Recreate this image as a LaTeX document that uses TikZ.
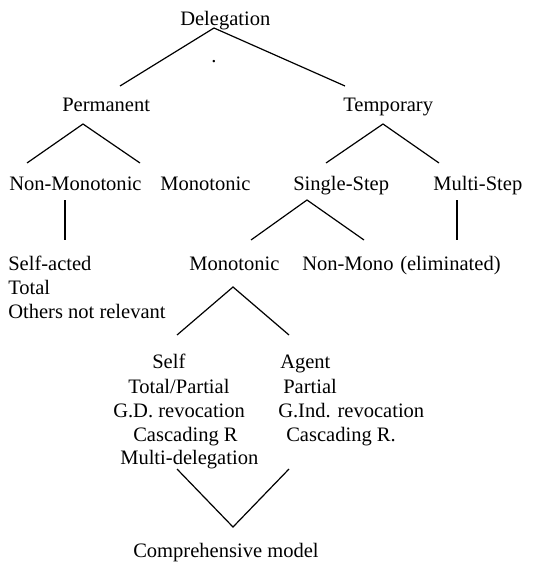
\documentclass[tikz,border=0pt]{standalone}
\usepackage{fontspec}
\setmainfont{Liberation Serif}
\begin{document}
\begin{tikzpicture}[x=0.75pt,y=-0.75pt,
  lbl/.style={anchor=base west,inner sep=0pt,font=\fontsize{15.4}{18}\selectfont},
  branch/.style={line width=0.9pt}]
\useasboundingbox (0,0) rectangle (537,563);
% top level
\node[lbl] (deleg) at (180,26) {Delegation};
\node[lbl] (dot) at (211,63) {.};
\node[lbl] (perm) at (62,112) {Permanent};
\node[lbl] (temp) at (343,112) {Temporary};
% second level
\node[lbl] (nonmon) at (9,190) {Non-Monotonic};
\node[lbl] (mon) at (160,190) {Monotonic};
\node[lbl] (single) at (293,190) {Single-Step};
\node[lbl] (multi) at (433,190) {Multi-Step};
% third level
\node[lbl] (selfacted) at (8,270) {Self-acted};
\node[lbl] (total) at (8,294) {Total};
\node[lbl] (others) at (8,318) {Others not relevant};
\node[lbl] (smon) at (189,270) {Monotonic};
\node[lbl] (snonmon) at (302,270) {Non-Mono};
\node[lbl] (elim) at (400,270) {(eliminated)};
% self / agent
\node[lbl] (self) at (152,368) {Self};
\node[lbl] (selfa) at (128,393) {Total/Partial};
\node[lbl] (selfb) at (113,417) {G.D. revocation};
\node[lbl] (selfc) at (133,441) {Cascading R};
\node[lbl] (selfd) at (120,464) {Multi-delegation};
\node[lbl] (agent) at (280,368) {Agent};
\node[lbl] (agenta) at (283,393) {Partial};
\node[lbl] (agentb) at (278,417) {G.Ind. revocation};
\node[lbl] (agentc) at (286,441) {Cascading R.};
\node[lbl] (comp) at (133,557) {Comprehensive model};
% branch points
\coordinate (d0) at (214,28);
\coordinate (d1) at (120,86);
\coordinate (d2) at (345,86);
\coordinate (p0) at (83,124);
\coordinate (p1) at (27,163);
\coordinate (p2) at (140,163);
\coordinate (t0) at (383,124);
\coordinate (t1) at (326,163);
\coordinate (t2) at (439,163);
\coordinate (n0) at (65,200);
\coordinate (n1) at (65,240);
\coordinate (s0) at (307,200);
\coordinate (s1) at (251,240);
\coordinate (s2) at (364,240);
\coordinate (e0) at (457,200);
\coordinate (e1) at (457,240);
\coordinate (m0) at (233,287);
\coordinate (m1) at (177,335);
\coordinate (m2) at (289,335);
\coordinate (v1) at (177,469);
\coordinate (v0) at (233,527);
\coordinate (v2) at (289,469);
% branches
\draw[branch] (d1) -- (d0) -- (d2);
\draw[branch] (p1) -- (p0) -- (p2);
\draw[branch] (t1) -- (t0) -- (t2);
\draw[branch] (n0) -- (n1);
\draw[branch] (s1) -- (s0) -- (s2);
\draw[branch] (e0) -- (e1);
\draw[branch] (m1) -- (m0) -- (m2);
\draw[branch] (v1) -- (v0) -- (v2);
\end{tikzpicture}
\end{document}
